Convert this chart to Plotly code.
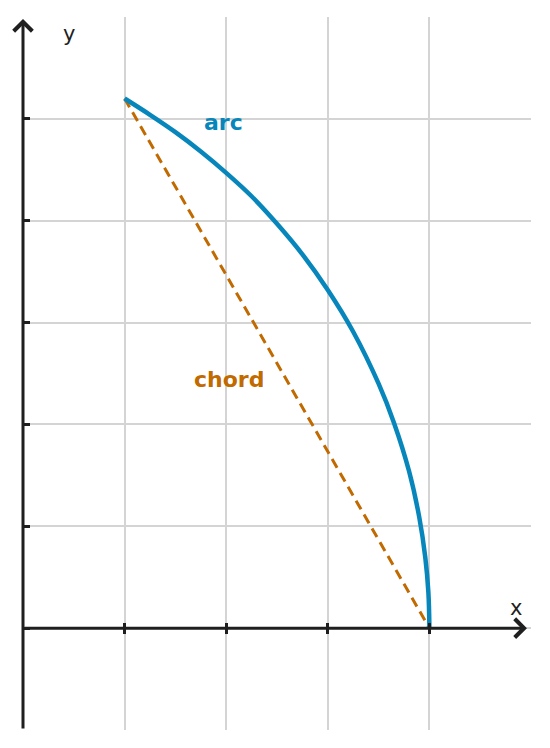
import plotly.graph_objects as go

# arc (circle through (1, 5.2) ending vertically at (4, 0))
arc_x = [1.0, 1.25, 1.5, 1.75, 2.0, 2.25, 2.5, 2.75, 3.0, 3.25, 3.5, 3.65, 3.8, 3.9, 3.96, 3.99, 4.0]
arc_y = [5.20, 5.04, 4.87, 4.68, 4.47, 4.24, 3.97, 3.67, 3.32, 2.91, 2.40, 2.02, 1.54, 1.09, 0.69, 0.35, 0.0]

chord_x = [1.0, 4.0]
chord_y = [5.20, 0.0]

x_ticks = [1, 2, 3, 4]
y_ticks = [-1, 0, 1, 2, 3, 4, 5]

ARC_COLOR = "#0786bb"
CHORD_COLOR = "#c06a00"
AXIS_COLOR = "#1f1f1f"
GRID_COLOR = "#d4d4d4"
FONT = "DejaVu Sans"

fig = go.Figure()

fig.add_trace(go.Scatter(
    x=chord_x, y=chord_y, mode="lines",
    line={"color": CHORD_COLOR, "width": 3, "dash": "10px,6px"},
    hoverinfo="skip",
))
fig.add_trace(go.Scatter(
    x=arc_x, y=arc_y, mode="lines",
    line={"color": ARC_COLOR, "width": 4.5, "shape": "spline"},
    hoverinfo="skip",
))

# axes with arrowheads
fig.add_annotation(x=0, y=5.98, ax=0, ay=-1, xref="x", yref="y", axref="x", ayref="y",
                   text="", showarrow=True, arrowhead=4, arrowsize=1.2, arrowwidth=3,
                   arrowcolor=AXIS_COLOR, standoff=0)
fig.add_annotation(x=4.96, y=0, ax=0, ay=0, xref="x", yref="y", axref="x", ayref="y",
                   text="", showarrow=True, arrowhead=4, arrowsize=1.2, arrowwidth=3,
                   arrowcolor=AXIS_COLOR, standoff=0)

fig.add_annotation(x=4.85, y=0.2, text="x", showarrow=False,
                   font={"family": FONT, "size": 21, "color": AXIS_COLOR})
fig.add_annotation(x=0.45, y=5.83, text="y", showarrow=False,
                   font={"family": FONT, "size": 21, "color": AXIS_COLOR})
fig.add_annotation(x=1.97, y=4.96, text="<b>arc</b>", showarrow=False,
                   font={"family": FONT, "size": 22, "color": ARC_COLOR})
fig.add_annotation(x=2.03, y=2.44, text="<b>chord</b>", showarrow=False,
                   font={"family": FONT, "size": 22, "color": CHORD_COLOR})

fig.update_layout(
    width=550,
    height=748,
    margin={"l": 15, "r": 27, "t": 9, "b": 26},
    paper_bgcolor="white",
    plot_bgcolor="white",
    showlegend=False,
    xaxis={
        "range": [0, 5], "tickvals": x_ticks, "showticklabels": False,
        "showgrid": True, "gridcolor": GRID_COLOR, "gridwidth": 1.5,
        "zeroline": False, "showline": False,
        "anchor": "free", "position": 1 / 7,
        "ticks": "outside", "ticklen": 5, "tickwidth": 3, "tickcolor": AXIS_COLOR,
    },
    xaxis2={
        "matches": "x", "overlaying": "x", "tickvals": x_ticks, "showticklabels": False,
        "showgrid": False, "zeroline": False, "showline": False,
        "anchor": "free", "position": 1 / 7,
        "ticks": "inside", "ticklen": 5, "tickwidth": 3, "tickcolor": AXIS_COLOR,
    },
    yaxis={
        "range": [-1, 6], "tickvals": y_ticks, "showticklabels": False,
        "showgrid": True, "gridcolor": GRID_COLOR, "gridwidth": 1.5,
        "zeroline": False, "showline": False,
        "ticks": "inside", "ticklen": 7, "tickwidth": 3, "tickcolor": AXIS_COLOR,
    },
)

# dummy trace so xaxis2 gets drawn
fig.add_trace(go.Scatter(x=[None], y=[None], xaxis="x2", hoverinfo="skip"))

fig.write_html("out.html")
